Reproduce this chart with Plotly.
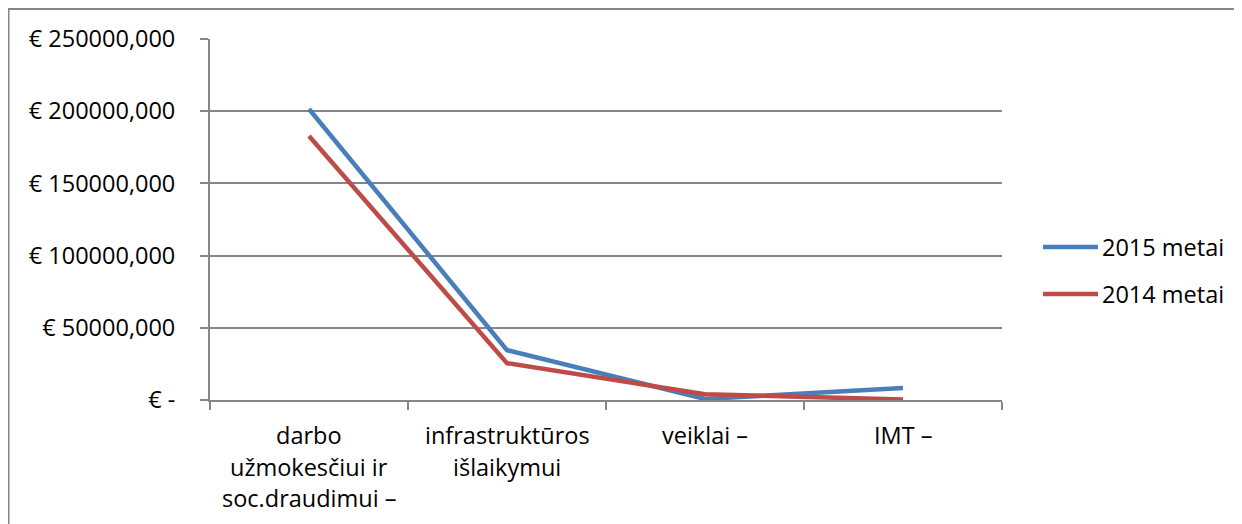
import plotly.graph_objects as go

categories = ["darbo užmokesčiui ir soc.draudimui –", "infrastruktūros išlaikymui", "veiklai –", "IMT –"]
label_lines = [["darbo", "užmokesčiui ir", "soc.draudimui –"], ["infrastruktūros", "išlaikymui"], ["veiklai –"], ["IMT –"]]
series_names = ["2015 metai", "2014 metai"]
series_2015 = [201500, 34500, 700, 8300]
series_2014 = [182800, 25500, 4000, 300]
tick_vals = [0, 50000, 100000, 150000, 200000, 250000]
tick_text = ["€ -", "€ 50000,000", "€ 100000,000", "€ 150000,000", "€ 200000,000", "€ 250000,000"]
colors = ["#4A7EBB", "#BE4B48"]

FONT = "Open Sans"
FS = 23.5
W, H = 1234, 516
L, R, T, B = 202, 240, 31, 124
PW, PH = W - L - R, H - T - B

def px(xf):  # figure px -> paper x
    return (xf - L) / PW

def py(yf):  # figure px (from top) -> paper y
    return 1 - (yf - T) / PH

fig = go.Figure()
for name, vals, col in zip(series_names, [series_2015, series_2014], colors):
    fig.add_trace(go.Scatter(x=categories, y=vals, mode="lines", name=name,
                             line=dict(color=col, width=4.5), showlegend=False))

for cat, lines in zip(categories, label_lines):
    for i, ln in enumerate(lines):
        fig.add_annotation(x=cat, y=0, xref="x", yref="y", text=ln, showarrow=False,
                           yanchor="middle", yshift=-35 - 31.5 * i,
                           font=dict(family=FONT, size=FS, color="#000000"))

# manual legend
for i, (name, col) in enumerate(zip(series_names, colors)):
    yc = 247 - 8 + 47 * i
    fig.add_shape(type="line", xref="paper", yref="paper",
                  x0=px(1043 - 8), x1=px(1098 - 8), y0=py(yc), y1=py(yc),
                  line=dict(color=col, width=4.5))
    fig.add_annotation(xref="paper", yref="paper", x=px(1100 - 8), y=py(yc), text=name,
                       showarrow=False, xanchor="left", yanchor="middle",
                       font=dict(family=FONT, size=FS, color="#000000"))

fig.update_layout(
    width=W, height=H,
    margin=dict(l=L, r=R, t=T, b=B),
    paper_bgcolor="white", plot_bgcolor="white",
    font=dict(family=FONT, size=FS, color="#000000"),
    showlegend=False,
    xaxis=dict(type="category", range=[-0.5, 3.5], showticklabels=False,
               showgrid=False, showline=True, linecolor="#868686", linewidth=2,
               ticks="outside", ticklen=8, tickcolor="#868686", tickwidth=1.5,
               tickson="boundaries", zeroline=False),
    yaxis=dict(range=[0, 250000], tickvals=tick_vals, ticktext=tick_text,
               showgrid=True, gridcolor="#868686", gridwidth=1.5,
               showline=True, linecolor="#868686", linewidth=2,
               ticks="outside", ticklen=8, tickcolor="#868686", tickwidth=1.5,
               zeroline=False, ticklabelstandoff=20,
               tickfont=dict(family=FONT, size=FS)),
)

fig.add_shape(type="line", xref="paper", yref="paper", x0=px(0), x1=px(W + 10), y0=py(1), y1=py(1),
              line=dict(color="#868686", width=2))
fig.add_shape(type="line", xref="paper", yref="paper", x0=px(0.5), x1=px(0.5), y0=py(1), y1=py(H + 10),
              line=dict(color="#868686", width=2))

fig.write_html("out.html")
